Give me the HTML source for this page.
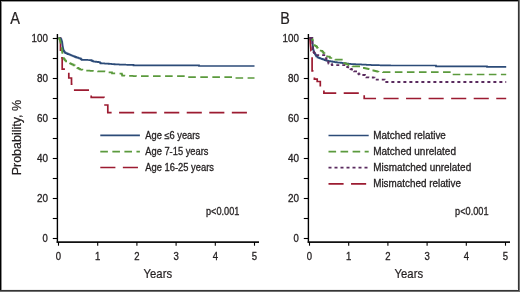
<!DOCTYPE html>
<html><head><meta charset="utf-8"><style>
html,body{margin:0;padding:0;background:#fff;}
body{width:520px;height:292px;overflow:hidden;}
svg{display:block;will-change:transform;}
</style></head><body>
<svg width="520" height="292" viewBox="0 0 520 292" font-family="Liberation Sans, sans-serif">
<style>text{stroke:#231f20;stroke-width:0.3px;}text.n{stroke:none;}text.m{stroke-width:0.22px;}</style>
<rect x="0" y="0" width="520" height="292" fill="#fff"/>
<line x1="57.4" y1="34" x2="57.4" y2="242.8" stroke="#000" stroke-width="1.4"/>
<line x1="52.8" y1="38.5" x2="57.4" y2="38.5" stroke="#000" stroke-width="1.1"/>
<line x1="52.8" y1="58.5" x2="57.4" y2="58.5" stroke="#000" stroke-width="1.1"/>
<line x1="52.8" y1="78.5" x2="57.4" y2="78.5" stroke="#000" stroke-width="1.1"/>
<line x1="52.8" y1="98.5" x2="57.4" y2="98.5" stroke="#000" stroke-width="1.1"/>
<line x1="52.8" y1="118.5" x2="57.4" y2="118.5" stroke="#000" stroke-width="1.1"/>
<line x1="52.8" y1="138.5" x2="57.4" y2="138.5" stroke="#000" stroke-width="1.1"/>
<line x1="52.8" y1="158.5" x2="57.4" y2="158.5" stroke="#000" stroke-width="1.1"/>
<line x1="52.8" y1="178.5" x2="57.4" y2="178.5" stroke="#000" stroke-width="1.1"/>
<line x1="52.8" y1="198.5" x2="57.4" y2="198.5" stroke="#000" stroke-width="1.1"/>
<line x1="52.8" y1="218.5" x2="57.4" y2="218.5" stroke="#000" stroke-width="1.1"/>
<line x1="52.8" y1="238.5" x2="57.4" y2="238.5" stroke="#000" stroke-width="1.1"/>
<text x="47.9" y="42" text-anchor="end" font-size="10.2" textLength="16.3" lengthAdjust="spacingAndGlyphs" fill="#231f20">100</text>
<text x="47.9" y="82" text-anchor="end" font-size="10.2" textLength="11" lengthAdjust="spacingAndGlyphs" fill="#231f20">80</text>
<text x="47.9" y="122" text-anchor="end" font-size="10.2" textLength="11" lengthAdjust="spacingAndGlyphs" fill="#231f20">60</text>
<text x="47.9" y="162" text-anchor="end" font-size="10.2" textLength="11" lengthAdjust="spacingAndGlyphs" fill="#231f20">40</text>
<text x="47.9" y="202" text-anchor="end" font-size="10.2" textLength="11" lengthAdjust="spacingAndGlyphs" fill="#231f20">20</text>
<text x="47.9" y="242" text-anchor="end" font-size="10.2" textLength="5.3" lengthAdjust="spacingAndGlyphs" fill="#231f20">0</text>
<line x1="56.7" y1="242" x2="259" y2="242" stroke="#111" stroke-width="1.75"/>
<line x1="58.5" y1="242" x2="58.5" y2="245.7" stroke="#000" stroke-width="1.1"/>
<text x="58.5" y="259.8" text-anchor="middle" font-size="10.2" textLength="5.3" lengthAdjust="spacingAndGlyphs" fill="#231f20">0</text>
<line x1="97.7" y1="242" x2="97.7" y2="245.7" stroke="#000" stroke-width="1.1"/>
<text x="97.7" y="259.8" text-anchor="middle" font-size="10.2" textLength="5.3" lengthAdjust="spacingAndGlyphs" fill="#231f20">1</text>
<line x1="136.9" y1="242" x2="136.9" y2="245.7" stroke="#000" stroke-width="1.1"/>
<text x="136.9" y="259.8" text-anchor="middle" font-size="10.2" textLength="5.3" lengthAdjust="spacingAndGlyphs" fill="#231f20">2</text>
<line x1="176.1" y1="242" x2="176.1" y2="245.7" stroke="#000" stroke-width="1.1"/>
<text x="176.1" y="259.8" text-anchor="middle" font-size="10.2" textLength="5.3" lengthAdjust="spacingAndGlyphs" fill="#231f20">3</text>
<line x1="215.3" y1="242" x2="215.3" y2="245.7" stroke="#000" stroke-width="1.1"/>
<text x="215.3" y="259.8" text-anchor="middle" font-size="10.2" textLength="5.3" lengthAdjust="spacingAndGlyphs" fill="#231f20">4</text>
<line x1="254.5" y1="242" x2="254.5" y2="245.7" stroke="#000" stroke-width="1.1"/>
<text x="254.5" y="259.8" text-anchor="middle" font-size="10.2" textLength="5.3" lengthAdjust="spacingAndGlyphs" fill="#231f20">5</text>
<text class="m" x="157.8" y="278.4" text-anchor="middle" font-size="13.3" textLength="28.5" lengthAdjust="spacingAndGlyphs" fill="#231f20">Years</text>
<text class="m" transform="translate(21.4,137.6) rotate(-90)" text-anchor="middle" font-size="13" textLength="75.5" lengthAdjust="spacingAndGlyphs" fill="#231f20">Probability, %</text>
<text class="m" x="10.2" y="23.6" font-size="16.6" textLength="9.7" lengthAdjust="spacingAndGlyphs" fill="#231f20">A</text>
<line x1="308.4" y1="34" x2="308.4" y2="242.8" stroke="#000" stroke-width="1.4"/>
<line x1="303.8" y1="38.5" x2="308.4" y2="38.5" stroke="#000" stroke-width="1.1"/>
<line x1="303.8" y1="58.5" x2="308.4" y2="58.5" stroke="#000" stroke-width="1.1"/>
<line x1="303.8" y1="78.5" x2="308.4" y2="78.5" stroke="#000" stroke-width="1.1"/>
<line x1="303.8" y1="98.5" x2="308.4" y2="98.5" stroke="#000" stroke-width="1.1"/>
<line x1="303.8" y1="118.5" x2="308.4" y2="118.5" stroke="#000" stroke-width="1.1"/>
<line x1="303.8" y1="138.5" x2="308.4" y2="138.5" stroke="#000" stroke-width="1.1"/>
<line x1="303.8" y1="158.5" x2="308.4" y2="158.5" stroke="#000" stroke-width="1.1"/>
<line x1="303.8" y1="178.5" x2="308.4" y2="178.5" stroke="#000" stroke-width="1.1"/>
<line x1="303.8" y1="198.5" x2="308.4" y2="198.5" stroke="#000" stroke-width="1.1"/>
<line x1="303.8" y1="218.5" x2="308.4" y2="218.5" stroke="#000" stroke-width="1.1"/>
<line x1="303.8" y1="238.5" x2="308.4" y2="238.5" stroke="#000" stroke-width="1.1"/>
<text x="298.9" y="42" text-anchor="end" font-size="10.2" textLength="16.3" lengthAdjust="spacingAndGlyphs" fill="#231f20">100</text>
<text x="298.9" y="82" text-anchor="end" font-size="10.2" textLength="11" lengthAdjust="spacingAndGlyphs" fill="#231f20">80</text>
<text x="298.9" y="122" text-anchor="end" font-size="10.2" textLength="11" lengthAdjust="spacingAndGlyphs" fill="#231f20">60</text>
<text x="298.9" y="162" text-anchor="end" font-size="10.2" textLength="11" lengthAdjust="spacingAndGlyphs" fill="#231f20">40</text>
<text x="298.9" y="202" text-anchor="end" font-size="10.2" textLength="11" lengthAdjust="spacingAndGlyphs" fill="#231f20">20</text>
<text x="298.9" y="242" text-anchor="end" font-size="10.2" textLength="5.3" lengthAdjust="spacingAndGlyphs" fill="#231f20">0</text>
<line x1="307.7" y1="242" x2="510" y2="242" stroke="#111" stroke-width="1.75"/>
<line x1="309.5" y1="242" x2="309.5" y2="245.7" stroke="#000" stroke-width="1.1"/>
<text x="309.5" y="259.8" text-anchor="middle" font-size="10.2" textLength="5.3" lengthAdjust="spacingAndGlyphs" fill="#231f20">0</text>
<line x1="348.7" y1="242" x2="348.7" y2="245.7" stroke="#000" stroke-width="1.1"/>
<text x="348.7" y="259.8" text-anchor="middle" font-size="10.2" textLength="5.3" lengthAdjust="spacingAndGlyphs" fill="#231f20">1</text>
<line x1="387.9" y1="242" x2="387.9" y2="245.7" stroke="#000" stroke-width="1.1"/>
<text x="387.9" y="259.8" text-anchor="middle" font-size="10.2" textLength="5.3" lengthAdjust="spacingAndGlyphs" fill="#231f20">2</text>
<line x1="427.1" y1="242" x2="427.1" y2="245.7" stroke="#000" stroke-width="1.1"/>
<text x="427.1" y="259.8" text-anchor="middle" font-size="10.2" textLength="5.3" lengthAdjust="spacingAndGlyphs" fill="#231f20">3</text>
<line x1="466.3" y1="242" x2="466.3" y2="245.7" stroke="#000" stroke-width="1.1"/>
<text x="466.3" y="259.8" text-anchor="middle" font-size="10.2" textLength="5.3" lengthAdjust="spacingAndGlyphs" fill="#231f20">4</text>
<line x1="505.5" y1="242" x2="505.5" y2="245.7" stroke="#000" stroke-width="1.1"/>
<text x="505.5" y="259.8" text-anchor="middle" font-size="10.2" textLength="5.3" lengthAdjust="spacingAndGlyphs" fill="#231f20">5</text>
<text class="m" x="408.8" y="278.4" text-anchor="middle" font-size="13.3" textLength="28.5" lengthAdjust="spacingAndGlyphs" fill="#231f20">Years</text>
<text class="m" x="280.2" y="23.6" font-size="16.6" textLength="9.6" lengthAdjust="spacingAndGlyphs" fill="#231f20">B</text>
<polyline points="58.3,38 60.5,38 60.5,57.9 62.2,57.9 62.2,69.2 68.8,69.2 68.8,78 71.5,78 71.5,84.2 73.3,84.2 73.3,90.2 91.2,90.2 91.2,97.3 104,97.3 104,105 107.8,105 107.8,112.7 253.2,112.7" fill="none" stroke="#9c1b31" stroke-width="1.7" stroke-dasharray="15.1 7.45" stroke-dashoffset="22.38"/>
<polyline points="58.4,38 59.2,38 59.2,38.2 60,38.2 60,38.4 60.65,38.4 60.65,39.2 61.3,39.2 61.3,40 61.6,40 61.6,41 61.9,41 61.9,42 62.2,42 62.2,43 62.33,43 62.33,44 62.45,44 62.45,45 62.58,45 62.58,46 62.7,46 62.7,47 62.9,47 62.9,48.1 63.1,48.1 63.1,49.2 63.3,49.2 63.3,50.3 63.8,50.3 63.8,51.15 64.3,51.15 64.3,52 64.95,52 64.95,52.6 65.6,52.6 65.6,53.2 66.73,53.2 66.73,53.63 67.87,53.63 67.87,54.07 69,54.07 69,54.5 70.17,54.5 70.17,55 71.33,55 71.33,55.5 72.5,55.5 72.5,56 73.67,56 73.67,56.43 74.83,56.43 74.83,56.87 76,56.87 76,57.3 77.08,57.3 77.08,57.65 78.15,57.65 78.15,58 79.22,58 79.22,58.35 80.3,58.35 80.3,58.7 80.95,58.7 80.95,59.25 81.6,59.25 81.6,59.8 82.71,59.8 82.71,59.84 83.82,59.84 83.82,59.88 84.94,59.88 84.94,59.91 86.05,59.91 86.05,59.95 87.16,59.95 87.16,59.99 88.28,59.99 88.28,60.02 89.39,60.02 89.39,60.06 90.5,60.06 90.5,60.1 91.43,60.1 91.43,60.57 92.37,60.57 92.37,61.03 93.3,61.03 93.3,61.5 94.2,61.5 94.2,61.6 95.1,61.6 95.1,61.7 96,61.7 96,61.8 97.03,61.8 97.03,61.93 98.07,61.93 98.07,62.07 99.1,62.07 99.1,62.2 99.85,62.2 99.85,62.75 100.6,62.75 100.6,63.3 101.75,63.3 101.75,63.37 102.9,63.37 102.9,63.43 104.05,63.43 104.05,63.5 105.2,63.5 105.2,63.57 106.35,63.57 106.35,63.63 107.5,63.63 107.5,63.7 108.67,63.7 108.67,63.8 109.83,63.8 109.83,63.9 111,63.9 111,64 112.17,64 112.17,64.1 113.33,64.1 113.33,64.2 114.5,64.2 114.5,64.3 115.55,64.3 115.55,64.35 116.6,64.35 116.6,64.4 117.65,64.4 117.65,64.45 118.7,64.45 118.7,64.5 119.75,64.5 119.75,64.55 120.8,64.55 120.8,64.6 121.85,64.6 121.85,64.65 122.9,64.65 122.9,64.7 124.02,64.7 124.02,64.72 125.14,64.72 125.14,64.74 126.27,64.74 126.27,64.77 127.39,64.77 127.39,64.79 128.51,64.79 128.51,64.81 129.63,64.81 129.63,64.83 130.76,64.83 130.76,64.86 131.88,64.86 131.88,64.88 133,64.88 133,64.9 133.5,64.9 133.5,65.4 198.5,65.4 199,65.4 199,66 254.5,66" fill="none" stroke="#2c4b78" stroke-width="1.7" stroke-linejoin="miter"/>
<polyline points="58.4,38 59.1,38 59.1,39 59.8,39 59.8,40 60.07,40 60.07,41 60.33,41 60.33,42 60.6,42 60.6,43 60.8,43 60.8,44 61,44 61,45 61.2,45 61.2,46 61.4,46 61.4,47 61.55,47 61.55,48 61.7,48 61.7,49 61.85,49 61.85,50 62,50 62,51 62.15,51 62.15,52 62.3,52 62.3,53 62.45,53 62.45,54 62.6,54 62.6,55 62.87,55 62.87,56 63.13,56 63.13,57 63.4,57 63.4,58 63.93,58 63.93,58.83 64.47,58.83 64.47,59.67 65,59.67 65,60.5 66,60.5 66,61.35 67,61.35 67,62.2 68,62.2 68,62.63 69,62.63 69,63.07 70,63.07 70,63.5 71.2,63.5 71.2,64.1 72.4,64.1 72.4,64.7 73.6,64.7 73.6,65.3 74.8,65.3 74.8,65.9 75.6,65.9 75.6,66.53 76.4,66.53 76.4,67.17 77.2,67.17 77.2,67.8 78.13,67.8 78.13,68.37 79.07,68.37 79.07,68.93 80,68.93 80,69.5 81.2,69.5 81.2,69.72 82.4,69.72 82.4,69.94 83.6,69.94 83.6,70.16 84.8,70.16 84.8,70.38 86,70.38 86,70.6 87.14,70.6 87.14,70.66 88.29,70.66 88.29,70.71 89.43,70.71 89.43,70.77 90.57,70.77 90.57,70.83 91.71,70.83 91.71,70.89 92.86,70.89 92.86,70.94 94,70.94 94,71 95,71 95,71.1 96,71.1 96,71.2 97,71.2 97,71.3 98,71.3 98,71.4 99.09,71.4 99.09,71.41 100.17,71.41 100.17,71.43 101.26,71.43 101.26,71.44 102.34,71.44 102.34,71.46 103.43,71.46 103.43,71.47 104.51,71.47 104.51,71.49 105.6,71.49 105.6,71.5 106.57,71.5 106.57,71.77 107.53,71.77 107.53,72.03 108.5,72.03 108.5,72.3 109.5,72.3 109.5,72.33 110.5,72.33 110.5,72.37 111.5,72.37 111.5,72.4 112,72.4 112,73.4 113.07,73.4 113.07,73.41 114.14,73.41 114.14,73.43 115.21,73.43 115.21,73.44 116.29,73.44 116.29,73.46 117.36,73.46 117.36,73.47 118.43,73.47 118.43,73.49 119.5,73.49 119.5,73.5 120.5,73.5 120.5,73.6 121.5,73.6 121.5,73.7 121.85,73.7 121.85,74.65 122.2,74.65 122.2,75.6 123.33,75.6 123.33,75.65 124.47,75.65 124.47,75.7 125.6,75.7 125.6,75.75 126.73,75.75 126.73,75.8 127.87,75.8 127.87,75.85 129,75.85 129,75.9 130.17,75.9 130.17,75.93 131.33,75.93 131.33,75.97 132.5,75.97 132.5,76 133.67,76 133.67,76.03 134.83,76.03 134.83,76.07 136,76.07 136,76.1 137.19,76.1 137.19,76.1 138.38,76.1 138.38,76.1 139.57,76.1 139.57,76.11 140.76,76.11 140.76,76.11 141.95,76.11 141.95,76.11 143.14,76.11 143.14,76.11 144.33,76.11 144.33,76.12 145.52,76.12 145.52,76.12 146.71,76.12 146.71,76.12 147.9,76.12 147.9,76.12 149.1,76.12 149.1,76.13 150.29,76.13 150.29,76.13 151.48,76.13 151.48,76.13 152.67,76.13 152.67,76.13 153.86,76.13 153.86,76.14 155.05,76.14 155.05,76.14 156.24,76.14 156.24,76.14 157.43,76.14 157.43,76.14 158.62,76.14 158.62,76.15 159.81,76.15 159.81,76.15 161,76.15 161,76.15 162.19,76.15 162.19,76.15 163.38,76.15 163.38,76.15 164.57,76.15 164.57,76.16 165.76,76.16 165.76,76.16 166.95,76.16 166.95,76.16 168.14,76.16 168.14,76.16 169.33,76.16 169.33,76.17 170.52,76.17 170.52,76.17 171.71,76.17 171.71,76.17 172.9,76.17 172.9,76.17 174.1,76.17 174.1,76.18 175.29,76.18 175.29,76.18 176.48,76.18 176.48,76.18 177.67,76.18 177.67,76.18 178.86,76.18 178.86,76.19 180.05,76.19 180.05,76.19 181.24,76.19 181.24,76.19 182.43,76.19 182.43,76.19 183.62,76.19 183.62,76.2 184.81,76.2 184.81,76.2 186,76.2 186,76.2 186.5,76.2 186.5,77.1 233,77.1 233.5,77.1 233.5,78 254.5,78" fill="none" stroke="#5b9a3d" stroke-width="1.7" stroke-dasharray="7.6 4.45" stroke-dashoffset="11.81"/>
<polyline points="309.3,38 309.9,38 310,38 310,39.2 310.1,39.2 310.1,40.4 310.2,40.4 310.2,41.6 310.3,41.6 310.3,42.8 310.4,42.8 310.4,44 310.5,44 310.5,45.12 310.6,45.12 310.6,46.23 310.7,46.23 310.7,47.35 310.8,47.35 310.8,48.47 310.9,48.47 310.9,49.58 311,49.58 311,50.7 311.15,50.7 311.15,51.78 311.3,51.78 311.3,52.85 311.45,52.85 311.45,53.92 311.6,53.92 311.6,55 311.77,55 311.77,55.83 311.93,55.83 311.93,56.67 312.1,56.67 312.1,57.5 312.1,70.9 314.4,70.9 314.4,79.2 317.2,79.2 317.2,81.5 320.3,81.5 320.3,88 323.9,88 323.9,93.2 364.2,93.2 364.2,98.5 506.2,98.5" fill="none" stroke="#9c1b31" stroke-width="1.7" stroke-dasharray="15.1 7.45" stroke-dashoffset="0.6"/>
<polyline points="309.4,38 310.2,38 310.2,38.3 311,38.3 311,38.6 311.65,38.6 311.65,39.8 312.3,39.8 312.3,41 312.4,41 312.4,42 312.5,42 312.5,43 312.6,43 312.6,44 312.7,44 312.7,45 312.8,45 312.8,46 312.93,46 312.93,47 313.05,47 313.05,48 313.18,48 313.18,49 313.3,49 313.3,50 313.6,50 313.6,51 313.9,51 313.9,52 314.2,52 314.2,53 314.85,53 314.85,54 315.5,54 315.5,55 315.95,55 315.95,55.65 316.4,55.65 316.4,56.3 317.5,56.3 317.5,57.4 318.4,57.4 318.4,57.77 319.3,57.77 319.3,58.13 320.2,58.13 320.2,58.5 321.13,58.5 321.13,58.77 322.07,58.77 322.07,59.03 323,59.03 323,59.3 323.9,59.3 323.9,59.67 324.8,59.67 324.8,60.03 325.7,60.03 325.7,60.4 326.6,60.4 326.6,60.6 327.5,60.6 327.5,60.8 328.4,60.8 328.4,61 329.3,61 329.3,61.15 330.2,61.15 330.2,61.3 331.1,61.3 331.1,61.45 332,61.45 332,61.6 333.07,61.6 333.07,61.8 334.15,61.8 334.15,62 335.23,62 335.23,62.2 336.3,62.2 336.3,62.4 337.23,62.4 337.23,62.48 338.15,62.48 338.15,62.55 339.07,62.55 339.07,62.62 340,62.62 340,62.7 341,62.7 341,62.84 342,62.84 342,62.98 343,62.98 343,63.12 344,63.12 344,63.26 345,63.26 345,63.4 346.06,63.4 346.06,63.52 347.12,63.52 347.12,63.64 348.18,63.64 348.18,63.76 349.24,63.76 349.24,63.88 350.3,63.88 350.3,64 351.47,64 351.47,64.06 352.64,64.06 352.64,64.11 353.81,64.11 353.81,64.17 354.99,64.17 354.99,64.23 356.16,64.23 356.16,64.29 357.33,64.29 357.33,64.34 358.5,64.34 358.5,64.4 359.7,64.4 359.7,64.46 360.9,64.46 360.9,64.52 362.1,64.52 362.1,64.58 363.3,64.58 363.3,64.63 364.5,64.63 364.5,64.69 365.7,64.69 365.7,64.75 366.9,64.75 366.9,64.81 368.1,64.81 368.1,64.87 369.3,64.87 369.3,64.92 370.5,64.92 370.5,64.98 371.7,64.98 371.7,65.04 372.9,65.04 372.9,65.1 374.04,65.1 374.04,65.13 375.18,65.13 375.18,65.15 376.32,65.15 376.32,65.18 377.46,65.18 377.46,65.21 378.6,65.21 378.6,65.23 379.74,65.23 379.74,65.26 380.88,65.26 380.88,65.29 382.02,65.29 382.02,65.31 383.16,65.31 383.16,65.34 384.3,65.34 384.3,65.37 385.44,65.37 385.44,65.39 386.58,65.39 386.58,65.42 387.72,65.42 387.72,65.45 388.86,65.45 388.86,65.47 390,65.47 390,65.5 435.6,65.5 436,65.5 436,66.3 486.5,66.3 487,66.3 487,66.9 506.2,66.9" fill="none" stroke="#2c4b78" stroke-width="1.7" stroke-linejoin="miter"/>
<polyline points="309.4,38 310.2,38 310.2,38.1 311,38.1 311,38.2 311.8,38.2 311.8,38.3 312.25,38.3 312.25,39.4 312.7,39.4 312.7,40.5 312.88,40.5 312.88,41.62 313.05,41.62 313.05,42.75 313.22,42.75 313.22,43.88 313.4,43.88 313.4,45 314.23,45 314.23,45.37 315.07,45.37 315.07,45.73 315.9,45.73 315.9,46.1 316.53,46.1 316.53,46.97 317.17,46.97 317.17,47.83 317.8,47.83 317.8,48.7 318.65,48.7 318.65,49.65 319.5,49.65 319.5,50.6 320.6,50.6 320.6,50.75 321.7,50.75 321.7,50.9 322.4,50.9 322.4,51.73 323.1,51.73 323.1,52.57 323.8,52.57 323.8,53.4 324.6,53.4 324.6,54.4 325.4,54.4 325.4,55.4 326.2,55.4 326.2,56.4 327.33,56.4 327.33,56.53 328.47,56.53 328.47,56.67 329.6,56.67 329.6,56.8 329.8,56.8 329.8,57.4 330,57.4 330,58 332.6,58 333.47,58 333.47,58.53 334.33,58.53 334.33,59.07 335.2,59.07 335.2,59.6 343,59.6 343.25,59.6 343.25,60.5 343.5,60.5 343.5,61.4 343.75,61.4 343.75,62.3 344,62.3 344,63.2 345.16,63.2 345.16,63.68 346.32,63.68 346.32,64.16 347.48,64.16 347.48,64.64 348.64,64.64 348.64,65.12 349.8,65.12 349.8,65.6 350.7,65.6 350.7,65.83 351.6,65.83 351.6,66.07 352.5,66.07 352.5,66.3 360.6,66.3 361.8,66.3 361.8,67.05 363,67.05 363,67.8 364.13,67.8 364.13,68.07 365.27,68.07 365.27,68.33 366.4,68.33 366.4,68.6 367.53,68.6 367.53,68.87 368.67,68.87 368.67,69.13 369.8,69.13 369.8,69.4 370.67,69.4 370.67,69.73 371.53,69.73 371.53,70.07 372.4,70.07 372.4,70.4 373.42,70.4 373.42,70.67 374.43,70.67 374.43,70.93 375.45,70.93 375.45,71.2 376.47,71.2 376.47,71.47 377.48,71.47 377.48,71.73 378.5,71.73 378.5,72 379.62,72 379.62,72.03 380.75,72.03 380.75,72.05 381.88,72.05 381.88,72.07 383,72.07 383,72.1 451,72.1 451.17,72.1 451.17,72.9 451.33,72.9 451.33,73.7 451.5,73.7 451.5,74.5 506.2,74.5" fill="none" stroke="#5b9a3d" stroke-width="1.7" stroke-dasharray="7.6 4.45" stroke-dashoffset="0.95"/>
<polyline points="309.3,38 312.3,38 312.32,38 312.32,39.2 312.34,39.2 312.34,40.4 312.36,40.4 312.36,41.6 312.38,41.6 312.38,42.8 312.4,42.8 312.4,44 312.48,44 312.48,45 312.56,45 312.56,46 312.64,46 312.64,47 312.72,47 312.72,48 312.8,48 312.8,49 313.03,49 313.03,50 313.27,50 313.27,51 313.5,51 313.5,52 314.17,52 314.17,53.07 314.83,53.07 314.83,54.13 315.5,54.13 315.5,55.2 324.9,55.2 325.25,55.2 325.25,56.25 325.6,56.25 325.6,57.3 326.05,57.3 326.05,58.4 326.5,58.4 326.5,59.5 327.15,59.5 327.15,60.25 327.8,60.25 327.8,61 328.07,61 328.07,61.87 328.33,61.87 328.33,62.73 328.6,62.73 328.6,63.6 329.5,63.6 329.5,63.67 330.4,63.67 330.4,63.73 331.3,63.73 331.3,63.8 331.65,63.8 331.65,64.45 332,64.45 332,65.1 345,65.1 345.5,65.1 345.5,66.05 346,66.05 346,67 347.17,67 347.17,67.17 348.33,67.17 348.33,67.33 349.5,67.33 349.5,67.5 350,67.5 350,68.25 350.5,68.25 350.5,69 351.33,69 351.33,69.3 352.17,69.3 352.17,69.6 353,69.6 353,69.9 353.5,69.9 353.5,70.65 354,70.65 354,71.4 357.5,71.4 357.85,71.4 357.85,72.45 358.2,72.45 358.2,73.5 358.85,73.5 358.85,74.25 359.5,74.25 359.5,75 364.7,75 364.95,75 364.95,76.15 365.2,76.15 365.2,77.3 366.3,77.3 366.3,77.34 367.4,77.34 367.4,77.38 368.5,77.38 368.5,77.41 369.6,77.41 369.6,77.45 370.7,77.45 370.7,77.49 371.8,77.49 371.8,77.52 372.9,77.52 372.9,77.56 374,77.56 374,77.6 374.5,77.6 374.5,78.6 375,78.6 375,79.6 384.5,79.6 384.67,79.6 384.67,80.4 384.83,80.4 384.83,81.2 385,81.2 385,82 506.2,82" fill="none" stroke="#5a2b5f" stroke-width="1.8" stroke-dasharray="3 3" stroke-dashoffset="5.93"/>
<line x1="100.3" y1="135.3" x2="139.9" y2="135.3" stroke="#2c4b78" stroke-width="1.7"/>
<line x1="100.3" y1="151.6" x2="139.9" y2="151.6" stroke="#5b9a3d" stroke-width="1.7" stroke-dasharray="7.6 4.45"/>
<line x1="100.3" y1="167.5" x2="139.9" y2="167.5" stroke="#9c1b31" stroke-width="1.7" stroke-dasharray="15.1 7.45"/>
<text x="145.3" y="139" font-size="10.2" textLength="54.7" lengthAdjust="spacingAndGlyphs" fill="#231f20">Age ≤6 years</text>
<text x="145.3" y="154.9" font-size="10.2" textLength="63.1" lengthAdjust="spacingAndGlyphs" fill="#231f20">Age 7-15 years</text>
<text x="145.3" y="170.8" font-size="10.2" textLength="68.7" lengthAdjust="spacingAndGlyphs" fill="#231f20">Age 16-25 years</text>
<text x="206" y="215.3" font-size="10" textLength="33.4" lengthAdjust="spacingAndGlyphs" fill="#231f20">p&lt;0.001</text>
<line x1="328.5" y1="135.5" x2="368.7" y2="135.5" stroke="#2c4b78" stroke-width="1.7"/>
<line x1="328.5" y1="151.6" x2="368.7" y2="151.6" stroke="#5b9a3d" stroke-width="1.7" stroke-dasharray="7.6 4.45"/>
<line x1="328.5" y1="167.6" x2="368.7" y2="167.6" stroke="#5a2b5f" stroke-width="1.8" stroke-dasharray="3 3"/>
<line x1="328.5" y1="183.9" x2="368.7" y2="183.9" stroke="#9c1b31" stroke-width="1.7" stroke-dasharray="15.1 7.45"/>
<text x="373.2" y="138.6" font-size="10.2" textLength="72.7" lengthAdjust="spacingAndGlyphs" fill="#231f20">Matched relative</text>
<text x="373.2" y="154.5" font-size="10.2" textLength="82.8" lengthAdjust="spacingAndGlyphs" fill="#231f20">Matched unrelated</text>
<text x="373.2" y="170.5" font-size="10.2" textLength="98" lengthAdjust="spacingAndGlyphs" fill="#231f20">Mismatched unrelated</text>
<text x="373.2" y="186.5" font-size="10.2" textLength="87.8" lengthAdjust="spacingAndGlyphs" fill="#231f20">Mismatched relative</text>
<text x="455.1" y="215.3" font-size="10" textLength="33.4" lengthAdjust="spacingAndGlyphs" fill="#231f20">p&lt;0.001</text>
<g shape-rendering="crispEdges">
<rect x="1" y="1" width="1" height="289" fill="#8c8c8c"/>
<rect x="1" y="1" width="517" height="1" fill="#969696"/>
<rect x="517" y="2" width="1" height="287" fill="#ececec"/>
<rect x="2" y="289" width="515" height="1" fill="#f0f0f0"/>
<rect x="0" y="0" width="1" height="291" fill="#000"/>
<rect x="0" y="0" width="519" height="1" fill="#000"/>
<rect x="518" y="0" width="1" height="291" fill="#353535"/>
<rect x="0" y="290" width="519" height="1" fill="#353535"/>
<rect x="519" y="0" width="1" height="292" fill="#777"/>
<rect x="0" y="291" width="520" height="1" fill="#707070"/>
</g>
</svg>
</body></html>
